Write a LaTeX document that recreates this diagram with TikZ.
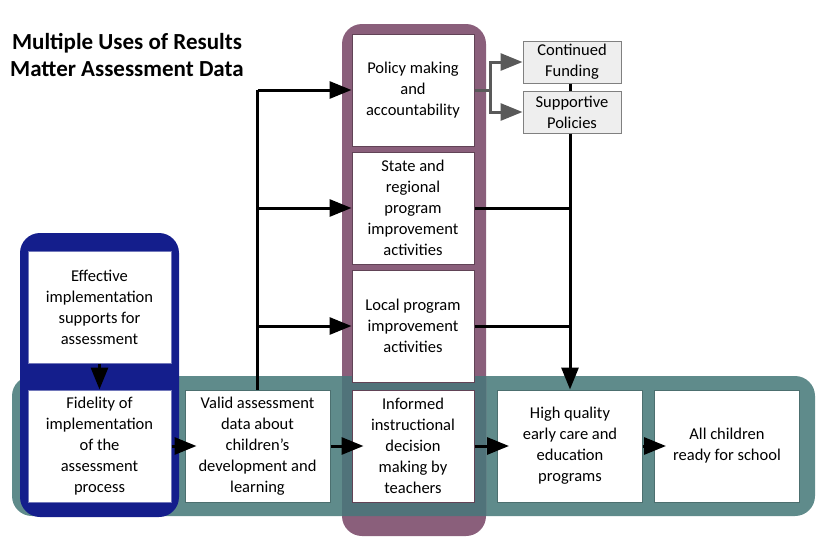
\documentclass[tikz,border=0pt]{standalone}
\usepackage{fontspec}
\setmainfont{Carlito}
\usetikzlibrary{positioning,arrows.meta}
\definecolor{rmTeal}{HTML}{5F8B8B}
\definecolor{rmPurple}{HTML}{8A5F7B}
\definecolor{rmOverlap}{HTML}{50737A}
\definecolor{rmBlue}{HTML}{141E8C}
\definecolor{rmGray}{HTML}{595959}
\definecolor{rmBoxGray}{HTML}{EEEEEE}
\tikzset{
	rmbox/.style={
		draw,
		fill=white,
		line width=1pt,
		align=center,
		inner sep=1pt,
		minimum width=145pt,
		minimum height=112pt,
		font=\fontsize{16.5}{21}\selectfont
	},
	rmPurpleBox/.style={rmbox, draw=rmPurple!70!black, minimum width=122pt},
	rmTealBox/.style={rmbox, draw=rmTeal!80!black},
	rmBlueBox/.style={rmbox, draw=rmBlue!60!white, minimum width=143pt},
	rmGrayBox/.style={rmbox, draw=gray, fill=rmBoxGray, minimum width=98pt, minimum height=42pt},
	rmBand/.style={rounded corners=20pt},
	rmLine/.style={line width=3pt, black},
	rmArrow/.style={rmLine, -{Triangle[length=22pt,width=17pt]}},
	rmChain/.style={rmArrow, shorten >=-12pt},
	rmSplit/.style={line width=3pt, rmGray},
	rmSplitArrow/.style={rmSplit, -{Triangle[length=22pt,width=17pt]}}
}
\begin{document}
\begin{tikzpicture}[x=1pt, y=-1pt]
	\useasboundingbox (0,0) rectangle (823,544);

	% Bands
	\fill[rmBand, rmTeal] (12,376) rectangle (815,516);
	\fill[rmBand, rmPurple] (342,24) rectangle (486,536);
	\begin{scope}
		\clip[rmBand] (342,24) rectangle (486,536);
		\fill[rmBand, rmOverlap] (12,376) rectangle (815,516);
	\end{scope}
	\fill[rmBand, rmBlue] (20,233) rectangle (179,517);

	% Title
	\node[font=\fontsize{23}{27}\bfseries\selectfont, align=center] (title) at (127,55)
	{Multiple Uses of Results\\Matter Assessment Data};

	% Uses column
	\node[rmPurpleBox] (policy) at (413,90) {Policy making\\and\\accountability};
	\node[rmPurpleBox] (state) at (413,208) {State and\\regional\\program\\improvement\\activities};
	\node[rmPurpleBox] (local) at (413,326) {Local program\\improvement\\activities};
	\node[rmPurpleBox] (informed) at (413,446) {Informed\\instructional\\decision\\making by\\teachers};

	% Assessment side
	\node[rmBlueBox] (effective) at (99.5,307) {Effective\\implementation\\supports for\\assessment};
	\node[rmBlueBox] (fidelity) at (99.5,446) {Fidelity of\\implementation\\of the\\assessment\\process};
	\node[rmTealBox, right=13pt of fidelity] (valid) {Valid assessment\\data about\\children's\\development and\\learning};

	% Outcomes
	\node[rmTealBox] (high) at (570,446) {High quality\\early care and\\education\\programs};
	\node[rmTealBox, right=11pt of high] (all) {All children\\ready for school};

	% Policy results
	\node[rmGrayBox] (funding) at (572,62) {Continued\\Funding};
	\node[rmGrayBox] (policies) at (572,112) {Supportive\\Policies};

	% Flows
	\draw[rmArrow] (effective) -- (fidelity);
	\draw[rmChain] (fidelity) -- (valid);
	\draw[rmChain] (valid) -- (informed);
	\draw[rmChain] (informed) -- (high);
	\draw[rmChain] (high) -- (all);

	\coordinate (spine) at (valid.north |- policy);
	\draw[rmLine] (valid.north) -- (spine);
	\draw[rmArrow] (spine) -- (policy);
	\draw[rmArrow] (valid.north |- state) -- (state);
	\draw[rmArrow] (valid.north |- local) -- (local);

	\coordinate (split) at (490,90);
	\draw[rmSplit] (policy) -- (split);
	\draw[rmSplitArrow] (split) |- (funding);
	\draw[rmSplitArrow] (split) |- (policies);

	\draw[rmLine] (funding.south -| high.north) -- (policies.north -| high.north);
	\draw[rmLine] (state) -- (state -| high.north);
	\draw[rmLine] (local) -- (local -| high.north);
	\draw[rmArrow] (policies.south -| high.north) -- (high);

\end{tikzpicture}
\end{document}
